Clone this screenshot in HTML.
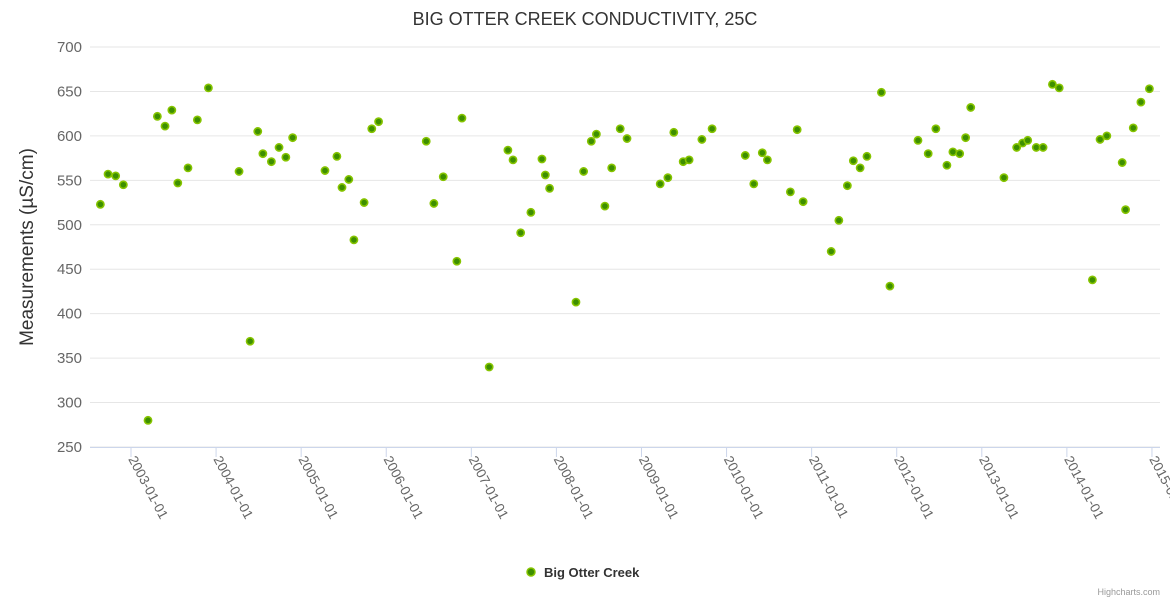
<!DOCTYPE html>
<html><head><meta charset="utf-8"><style>
body{margin:0;background:#fff;}
svg{display:block;font-family:"Liberation Sans",sans-serif;}
</style></head><body>
<svg id="chart" width="1170" height="600">
<text x="585" y="25" text-anchor="middle" font-size="18" fill="#333">BIG OTTER CREEK CONDUCTIVITY, 25C</text>
<text transform="translate(33,247) rotate(-90)" text-anchor="middle" font-size="19" fill="#333">Measurements (µS/cm)</text>
<g id="grid"></g><g id="xaxis"></g><g id="points"></g>
<g>
<circle cx="531" cy="572" r="4" fill="#3d8f00" stroke="#86c400" stroke-width="1.5"/>
<text x="544" y="577" font-size="13" font-weight="bold" fill="#333">Big Otter Creek</text>
</g>
<text x="1160" y="595" text-anchor="end" font-size="9" fill="#999">Highcharts.com</text>
</svg>
<script>
const yTicks=[250,300,350,400,450,500,550,600,650,700];
const xTickYears=[2003,2004,2005,2006,2007,2008,2009,2010,2011,2012,2013,2014,2015];
const dates=[2002.64,2002.73,2002.82,2002.91,2003.20,2003.31,2003.40,2003.48,2003.55,2003.67,2003.78,2003.91,2004.27,2004.40,2004.49,2004.55,2004.65,2004.74,2004.82,2004.90,2005.28,2005.42,2005.48,2005.56,2005.62,2005.74,2005.83,2005.91,2006.47,2006.56,2006.67,2006.83,2006.89,2007.21,2007.43,2007.49,2007.58,2007.70,2007.83,2007.87,2007.92,2008.23,2008.32,2008.41,2008.47,2008.57,2008.65,2008.75,2008.83,2009.22,2009.31,2009.38,2009.49,2009.56,2009.71,2009.83,2010.22,2010.32,2010.42,2010.48,2010.75,2010.83,2010.90,2011.23,2011.32,2011.42,2011.49,2011.57,2011.65,2011.82,2011.92,2012.25,2012.37,2012.46,2012.59,2012.66,2012.74,2012.81,2012.87,2013.26,2013.41,2013.48,2013.54,2013.64,2013.72,2013.83,2013.91,2014.30,2014.39,2014.47,2014.65,2014.69,2014.78,2014.87,2014.97];
const values=[523,557,555,545,280,622,611,629,547,564,618,654,560,369,605,580,571,587,576,598,561,577,542,551,483,525,608,616,594,524,554,459,620,340,584,573,491,514,574,556,541,413,560,594,602,521,564,608,597,546,553,604,571,573,596,608,578,546,581,573,537,607,526,470,505,544,572,564,577,649,431,595,580,608,567,582,580,598,632,553,587,592,595,587,587,658,654,438,596,600,570,517,609,638,653];
const NS='http://www.w3.org/2000/svg';
const L=90,R=1160,T=47,B=447;
const yS=v=>B-(v-250)/450*(B-T);
const xS=yr=>131+(yr-2003)*85.08;
function mk(tag,attrs,parent){const e=document.createElementNS(NS,tag);for(const k in attrs)e.setAttribute(k,attrs[k]);parent.appendChild(e);return e;}
const grid=document.getElementById('grid');
yTicks.forEach(v=>{
 const ln=mk('line',{x1:L,x2:R,y1:yS(v),y2:yS(v),stroke:'#e6e6e6','stroke-width':1},grid);
 
 
 const t=mk('text',{x:82,y:yS(v)+5,'text-anchor':'end','font-size':15,fill:'#666'},grid);
 t.textContent=v;
 
 
});
const xa=document.getElementById('xaxis');
const ax=mk('line',{x1:L,x2:R,y1:B+0.5,y2:B+0.5,stroke:'#ccd6eb'},xa);


xTickYears.forEach(y=>{
 const x=xS(y);
 const tk=mk('line',{x1:x,x2:x,y1:B,y2:B+10,stroke:'#ccd6eb'},xa);
 
 
 const t=mk('text',{transform:`translate(${x-3},${B+12}) rotate(62)`,'font-size':13.5,fill:'#666'},xa);
 t.textContent=y+'-01-01';
 
 
});
const pts=document.getElementById('points');
dates.forEach((d,i)=>{
 const c=mk('circle',{cx:xS(d),cy:yS(values[i]),r:3.6,fill:'#3d8f00',stroke:'#86c400','stroke-width':1.6},pts);
 
 
});
</script>
</body></html>
